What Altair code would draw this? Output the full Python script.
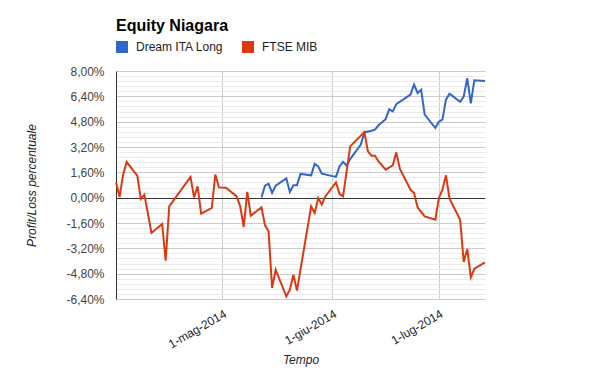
import altair as alt
import numpy as np
import pandas as pd

dream_dates = ["2014-05-12", "2014-05-13", "2014-05-14", "2014-05-15", "2014-05-16",
               "2014-05-19", "2014-05-20", "2014-05-21", "2014-05-22", "2014-05-23",
               "2014-05-26", "2014-05-27", "2014-05-28", "2014-05-29", "2014-06-02",
               "2014-06-03", "2014-06-04", "2014-06-05", "2014-06-06", "2014-06-09",
               "2014-06-10", "2014-06-12", "2014-06-13", "2014-06-14", "2014-06-16",
               "2014-06-17", "2014-06-18", "2014-06-19", "2014-06-23", "2014-06-24",
               "2014-06-25", "2014-06-26", "2014-06-27", "2014-06-30", "2014-07-01",
               "2014-07-02", "2014-07-03", "2014-07-04", "2014-07-07", "2014-07-08",
               "2014-07-09", "2014-07-10", "2014-07-11", "2014-07-14"]
dream_values = [0.02, 0.76, 0.88, 0.30, 0.76,
                1.22, 0.36, 0.78, 0.78, 1.50,
                1.41, 2.13, 1.98, 1.52, 1.31,
                1.98, 2.27, 2.02, 2.44, 3.35,
                4.12, 4.23, 4.30, 4.57, 4.96,
                5.58, 5.45, 5.90, 6.51, 7.14,
                6.61, 6.82, 5.24, 4.40, 4.80,
                4.93, 6.19, 6.57, 6.05, 6.38,
                7.54, 5.96, 7.41, 7.37]

ftse_dates = ["2014-04-01", "2014-04-02", "2014-04-03", "2014-04-04", "2014-04-07",
              "2014-04-08", "2014-04-09", "2014-04-11", "2014-04-14", "2014-04-15",
              "2014-04-16", "2014-04-22", "2014-04-23", "2014-04-24", "2014-04-25",
              "2014-04-28", "2014-04-29", "2014-04-30", "2014-05-02", "2014-05-05",
              "2014-05-06", "2014-05-07", "2014-05-08", "2014-05-09", "2014-05-12",
              "2014-05-13", "2014-05-14", "2014-05-15", "2014-05-16", "2014-05-19",
              "2014-05-20", "2014-05-21", "2014-05-22", "2014-05-26", "2014-05-27",
              "2014-05-28", "2014-05-29", "2014-05-30", "2014-06-02", "2014-06-03",
              "2014-06-04", "2014-06-06", "2014-06-10", "2014-06-11", "2014-06-12",
              "2014-06-13", "2014-06-14", "2014-06-16", "2014-06-18", "2014-06-19",
              "2014-06-20", "2014-06-23", "2014-06-24", "2014-06-25", "2014-06-27",
              "2014-06-30", "2014-07-01", "2014-07-02", "2014-07-03", "2014-07-04",
              "2014-07-07", "2014-07-08", "2014-07-09", "2014-07-10", "2014-07-11",
              "2014-07-14"]
ftse_values = [0.97, 0.04, 1.45, 2.25, 1.39,
               -0.08, 0.19, -2.23, -1.66, -3.98,
               -0.55, 1.31, 0.02, 0.71, -1.01,
               -0.65, 1.47, 0.65, 0.63, 0.08,
               -0.55, -1.85, 0.36, -1.14, -0.61,
               -1.75, -2.13, -5.70, -4.55, -6.23,
               -5.81, -4.86, -5.87, -0.55, -0.97,
               -0.02, -0.44, 0.08, 0.97, 0.23,
               0.08, 3.24, 4.15, 2.92, 2.65,
               2.65, 2.29, 1.77, 2.04, 2.86,
               1.83, 0.51, 0.30, -0.61, -1.18,
               -1.39, -0.02, 0.51, 1.41, -0.06,
               -1.39, -4.06, -3.24, -5.03, -4.49,
               -4.09]

series_names = ["Dream ITA Long", "FTSE MIB"]
series_colors = ["#3366CC", "#DC3912"]
month_names = ["gen", "feb", "mar", "apr", "mag", "giu", "lug", "ago", "set", "ott", "nov", "dic"]

df = pd.concat([
    pd.DataFrame({"date": dream_dates, "value": dream_values, "serie": series_names[0]}),
    pd.DataFrame({"date": ftse_dates, "value": ftse_values, "serie": series_names[1]}),
])

FONT = "Liberation Sans"

y_ticks = [float(v) for v in np.round(np.arange(-6.4, 8.0001, 0.32), 2)]
major_test = "abs(datum.value/1.6 - round(datum.value/1.6)) < 0.001"

month_js = "[" + ",".join("'%s'" % m for m in month_names) + "]"

x_axis = alt.Axis(
    values=[alt.DateTime(year=2014, month=m, date=1, utc=True) for m in (5, 6, 7)],
    labelExpr="utcdate(datum.value) + '-' + " + month_js + "[utcmonth(datum.value)] + '-' + utcyear(datum.value)",
    labelAngle=-30, labelAlign="right", labelBaseline="top",
    labelFontSize=12, labelColor="#222222", labelFont=FONT, labelPadding=9,
    ticks=False, tickSize=0, domain=False,
    grid=True, gridColor="#cccccc", gridWidth=1,
    title="Tempo", titleFont=FONT, titleFontSize=12, titleFontStyle="italic",
    titleFontWeight="normal", titleColor="#222222", titlePadding=5,
    labelOverlap=False, labelFlush=False,
)

y_axis = alt.Axis(
    values=y_ticks,
    labelExpr="(" + major_test + ") ? ((datum.value < -0.001 ? '-' : '') + replace(format(abs(datum.value), '.2f'), '.', ',') + '%') : ''",
    labelFontSize=12, labelColor="#444444", labelFont=FONT, labelPadding=12,
    ticks=False, tickSize=0,
    domain=True, domainColor="#333333", domainWidth=1,
    grid=True,
    gridColor={"condition": [{"test": "abs(datum.value) < 0.001", "value": "#333333"},
                             {"test": major_test, "value": "#cccccc"}],
               "value": "#ebebeb"},
    title="Profit/Loss percentuale", titleFont=FONT, titleFontSize=12,
    titleFontStyle="italic", titleFontWeight="normal", titleColor="#222222",
    titlePadding=27,
    labelOverlap=False, labelFlush=False,
)

legend = alt.Legend(
    orient="none", legendX=0, legendY=-30, direction="horizontal", title=None,
    symbolType="square", symbolSize=36, symbolStrokeWidth=6,
    labelFont=FONT, labelFontSize=12, labelColor="#222222", labelOffset=8,
    columnPadding=9,
)

chart = alt.Chart(df).mark_line(strokeWidth=2).encode(
    x=alt.X("date:T", axis=x_axis,
            scale=alt.Scale(type="utc", nice=False,
                            domain=[alt.DateTime(year=2014, month=4, date=1, utc=True),
                                    alt.DateTime(year=2014, month=7, date=14, utc=True)])),
    y=alt.Y("value:Q", axis=y_axis, scale=alt.Scale(domain=[-6.4, 8.0], nice=False, zero=False)),
    color=alt.Color("serie:N", scale=alt.Scale(domain=series_names, range=series_colors), legend=legend),
).properties(
    width=369, height=228,
    title=alt.TitleParams("Equity Niagara", anchor="start", frame="group", font=FONT, fontSize=16,
                          fontWeight="bold", color="#000000", offset=9, dy=15, baseline="alphabetic"),
    autosize=alt.AutoSizeParams(type="none"),
    padding={"left": 108, "top": 63, "right": 100, "bottom": 70},
).configure_view(stroke=None)

chart.save("out.html", embed_options={"renderer": "svg", "actions": False})
